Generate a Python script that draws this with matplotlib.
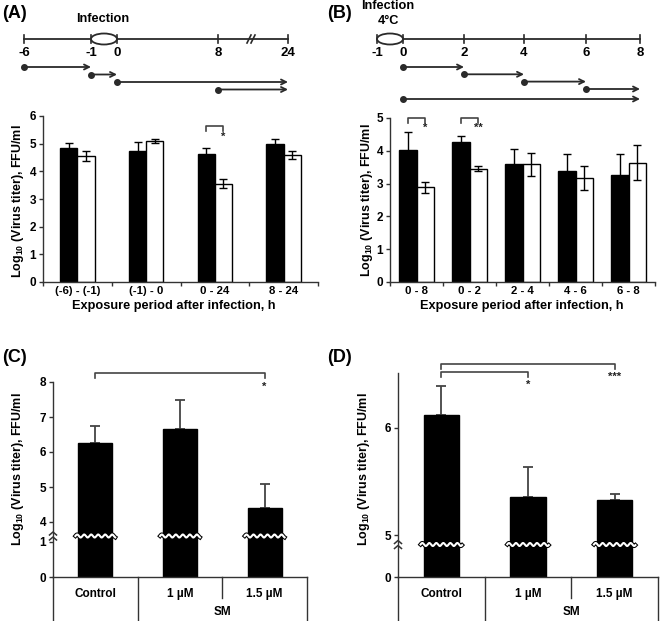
import numpy as np
import matplotlib
matplotlib.use('Agg')
import matplotlib.pyplot as plt
from matplotlib.patches import Ellipse

plt.rcParams['font.family'] = ['Liberation Sans', 'DejaVu Sans']
plt.rcParams['font.weight'] = 'bold'
plt.rcParams['mathtext.fontset'] = 'custom'
plt.rcParams['mathtext.rm'] = 'Liberation Sans:bold'
plt.rcParams['mathtext.it'] = 'Liberation Sans:bold'
plt.rcParams['mathtext.bf'] = 'Liberation Sans:bold'

# ---------------- data ----------------
a_cats = ['(-6) - (-1)', '(-1) - 0', '0 - 24', '8 - 24']
a_black = [4.86, 4.73, 4.61, 4.98]
a_black_err = [0.15, 0.32, 0.24, 0.19]
a_white = [4.55, 5.10, 3.55, 4.59]
a_white_err = [0.18, 0.07, 0.16, 0.16]

b_cats = ['0 - 8', '0 - 2', '2 - 4', '4 - 6', '6 - 8']
b_black = [4.03, 4.26, 3.59, 3.37, 3.27]
b_black_err = [0.54, 0.18, 0.46, 0.54, 0.63]
b_white = [2.89, 3.46, 3.59, 3.17, 3.64]
b_white_err = [0.17, 0.08, 0.35, 0.36, 0.54]

c_cats = ['Control', '1 µM', '1.5 µM']
c_vals = [6.27, 6.67, 4.41]
c_err = [0.46, 0.83, 0.67]
c_yticks = [0, 1, 4, 5, 6, 7, 8]

d_cats = ['Control', '1 µM', '1.5 µM']
d_vals = [6.12, 5.355, 5.324]
d_err = [0.27, 0.28, 0.06]
d_yticks = [0, 5, 6]

a_time_ticks = [-6, -1, 0, 8, 24]
a_arrows = [(-6, -1), (-1, 0), (0, 24), (8, 24)]
b_time_ticks = [-1, 0, 2, 4, 6, 8]
b_arrows = [(0, 2), (2, 4), (4, 6), (6, 8), (0, 8)]

YLABEL = r'Log$_{\mathrm{10}}$ (Virus titer), FFU/ml'
XLABEL = 'Exposure period after infection, h'

# ---------------- layout ----------------
W, H = 660, 621
fig = plt.figure(figsize=(W / 100, H / 100), dpi=100)
AX_C = '#333333'


def rect(x0, x1, ytop, ybot):
    return [x0 / W, 1 - ybot / H, (x1 - x0) / W, (ybot - ytop) / H]


def style_axes(ax):
    for s in ['top', 'right']:
        ax.spines[s].set_visible(False)
    for s in ['left', 'bottom']:
        ax.spines[s].set_linewidth(1.0)
        ax.spines[s].set_color(AX_C)
    ax.tick_params(axis='y', direction='out', length=3, width=1, color=AX_C,
                   labelsize=8.5, pad=2)
    ax.tick_params(axis='x', which='major', length=0, labelsize=8.2, pad=3)
    ax.tick_params(axis='x', which='minor', direction='out', length=3,
                   width=1, color=AX_C)


def piecewise_scale(xp, fp):
    xp = np.asarray(xp, float)
    fp = np.asarray(fp, float)

    def make(a, b):
        s0 = (b[1] - b[0]) / (a[1] - a[0])
        s1 = (b[-1] - b[-2]) / (a[-1] - a[-2])

        def f(v):
            v = np.asarray(v, float)
            return np.where(v < a[0], b[0] + (v - a[0]) * s0,
                            np.where(v > a[-1], b[-1] + (v - a[-1]) * s1,
                                     np.interp(v, a, b)))
        return f
    return make(xp, fp), make(fp, xp)


def grouped(ax, cats, black, berr, white, werr, w):
    x = np.arange(len(cats))
    ax.bar(x - w / 2, black, w, color='black', edgecolor='black', lw=1, zorder=2)
    ax.bar(x + w / 2, white, w, color='white', edgecolor='black', lw=1, zorder=2)
    ax.errorbar(x - w / 2, black, yerr=berr, fmt='none', ecolor='black',
                elinewidth=1, capsize=3, capthick=1, zorder=3)
    ax.errorbar(x + w / 2, white, yerr=werr, fmt='none', ecolor='black',
                elinewidth=1, capsize=3, capthick=1, zorder=3)
    ax.set_xlim(-0.5, len(cats) - 0.5)
    ax.set_xticks(x)
    ax.set_xticklabels(cats)
    ax.set_xticks(np.arange(len(cats) + 1) - 0.5, minor=True)
    style_axes(ax)
    return x


# Panel A bars
axA = fig.add_axes(rect(43, 318, 116, 282))
wA = 0.25
xA = grouped(axA, a_cats, a_black, a_black_err, a_white, a_white_err, wA)
axA.set_ylim(0, 6)
axA.set_yticks(range(7))

# Panel B bars
axB = fig.add_axes(rect(390, 655, 118, 282))
wB = 0.33
xB = grouped(axB, b_cats, b_black, b_black_err, b_white, b_white_err, wB)
axB.set_ylim(0, 5)
axB.set_yticks(range(6))


def single(ax, cats, vals, err, w, scale, ylim, yticks):
    x = np.arange(len(cats))
    ax.set_yscale('function', functions=scale)
    ax.bar(x, vals, w, color='black', edgecolor='black', lw=1, zorder=2)
    ax.errorbar(x, vals, yerr=[np.zeros(len(vals)), err], fmt='none',
                ecolor='#444444', elinewidth=1.3, capsize=3.5, capthick=1.3,
                zorder=1)
    ax.set_xlim(-0.5, len(cats) - 0.5)
    ax.set_ylim(*ylim)
    ax.set_yticks(yticks)
    ax.set_yticklabels([str(t) for t in yticks])
    ax.yaxis.set_minor_locator(matplotlib.ticker.NullLocator())
    ax.set_xticks(x)
    ax.set_xticklabels(cats)
    style_axes(ax)
    ax.tick_params(axis='x', which='major', pad=8, labelsize=8.5)
    return x


axC = fig.add_axes(rect(53, 307, 382, 577))
wC = 0.4
xC = single(axC, c_cats, c_vals, c_err, wC,
            piecewise_scale([0, 1, 4, 8], [0, 35, 55, 195]), (0, 8), c_yticks)

axD = fig.add_axes(rect(398, 658, 373, 577))
wD = 0.41
xD = single(axD, d_cats, d_vals, d_err, wD,
            piecewise_scale([0, 5, 6.51], [0, 42, 204]), (0, 6.51), d_yticks)

# ---------------- overlay (pixel coordinates, origin bottom-left) ----------------
ov = fig.add_axes([0, 0, 1, 1])
ov.set_xlim(0, W)
ov.set_ylim(0, H)
ov.axis('off')
ov.patch.set_alpha(0)
LC = '#2a2a2a'


def T(ytop):
    return H - ytop


def px(ax, x, y):
    return ax.transData.transform((x, y))


# panel letters
for s, (xx, yy) in {'(A)': (2, 13), '(B)': (327, 13), '(C)': (2, 357),
                    '(D)': (327, 357)}.items():
    ov.text(xx, T(yy), s, fontsize=13, fontweight='bold', ha='left', va='center')

# y labels
for xx, yy in [(18, 201), (367, 200), (18, 469), (364, 469)]:
    ov.text(xx, T(yy), YLABEL, rotation=90, ha='center', va='center', fontsize=9)

# x labels
ov.text(174, T(306), XLABEL, ha='center', va='center', fontsize=9.2)
ov.text(522, T(306), XLABEL, ha='center', va='center', fontsize=9.2)


# timelines
def timeline(hours, hpx, y, arrows, rows, ell_span, slash=None):
    hx = lambda h: float(np.interp(h, hours, hpx))
    ov.plot([hpx[0], hpx[-1]], [T(y), T(y)], color=LC, lw=1.3, zorder=2)
    for h in hours:
        ov.plot([hx(h), hx(h)], [T(y) - 4, T(y) + 4], color=LC, lw=1.2, zorder=2)
        ov.text(hx(h), T(y + 14), str(h), ha='center', va='center', fontsize=9.5)
    e0, e1 = hx(ell_span[0]), hx(ell_span[1])
    ov.add_patch(Ellipse(((e0 + e1) / 2, T(y)), e1 - e0, 11, facecolor='white',
                         edgecolor=LC, lw=1.3, zorder=3))
    if slash is not None:
        for dx in (-2, 2):
            ov.plot([slash + dx - 2, slash + dx + 2], [T(y) - 4, T(y) + 4],
                    color=LC, lw=1.2, zorder=3)
    for (h0, h1), ry in zip(arrows, rows):
        ov.annotate('', xy=(hx(h1), T(ry)), xytext=(hx(h0), T(ry)),
                    arrowprops=dict(arrowstyle='->', lw=1.3, color=LC,
                                    shrinkA=0, shrinkB=0, mutation_scale=9))
        ov.plot([hx(h0)], [T(ry)], 'o', ms=4, color=LC, zorder=3)


timeline(a_time_ticks, [24, 91, 117, 218, 288], 39, a_arrows,
         [67, 74.5, 82, 89.5], (-1, 0), slash=251)
ov.text(103, T(19), 'Infection', ha='center', va='center', fontsize=9.2)

timeline(b_time_ticks, [377, 403, 464, 524, 586, 640], 39, b_arrows,
         [67, 74.3, 81.6, 89, 99], (-1, 0))
ov.text(388, T(6), 'Infection', ha='center', va='center', fontsize=9.2)
ov.text(388, T(21), '4°C', ha='center', va='center', fontsize=9.2)

BR = '#444444'


def bracket(ax, x0, x1, ytop, drop, star, sy, fs=8):
    p0 = px(ax, x0, 0)[0]
    p1 = px(ax, x1, 0)[0]
    ov.plot([p0, p0, p1, p1], [T(ytop + drop), T(ytop), T(ytop), T(ytop + drop)],
            color=BR, lw=1.2)
    ov.text(p1, T(sy), star, ha='center', va='center', fontsize=fs, color='#222')


# significance brackets
bracket(axA, xA[2] - wA / 2, xA[2] + wA / 2, 126, 5, '*', 137)
bracket(axB, xB[0] - wB / 2, xB[0] + wB / 2, 118, 5, '*', 128)
bracket(axB, xB[1] - wB / 2, xB[1] + wB / 2, 118, 5, '**', 128)
bracket(axC, xC[0], xC[2], 373, 5, '*', 387)
bracket(axD, xD[0], xD[2], 364, 5, '***', 377)
bracket(axD, xD[0], xD[1], 371.5, 5, '*', 385)


# axis breaks and table lines
def breaks(ax, x, w, yb_top):
    yb = T(yb_top)
    for xi in x:
        l = px(ax, xi - w / 2, 0)[0] - 3
        r = px(ax, xi + w / 2, 0)[0] + 3
        xs = np.linspace(l, r, 200)
        ys = yb + 1.5 * np.sin(2 * np.pi * (xs - l) / 7.0)
        ov.plot(xs, ys, color='black', lw=3.0, zorder=4)
        ov.plot(xs, ys, color='white', lw=1.5, zorder=5)
    ax_x = px(ax, -0.5, 0)[0]
    for dy in (-2.5, 2.5):
        c = yb + dy
        ov.plot([ax_x - 3.5, ax_x, ax_x + 3.5], [c - 1.5, c + 1.5, c - 1.5],
                color=AX_C, lw=1.1, zorder=4)


def table(ax, cats):
    n = len(cats)
    ybase = px(ax, 0, 0)[1]
    for b in np.arange(n + 1) - 0.5:
        xb = px(ax, b, 0)[0]
        low = T(598) if b == n - 1.5 else 0
        ov.plot([xb, xb], [ybase, low], color=AX_C, lw=1.0)
    ov.text(px(ax, n - 1.5, 0)[0], T(612), 'SM', ha='center', va='center',
            fontsize=8.5)


breaks(axC, xC, wC, 536)
breaks(axD, xD, wD, 544.5)
table(axC, c_cats)
table(axD, d_cats)

fig.savefig('out.png', dpi=100)
